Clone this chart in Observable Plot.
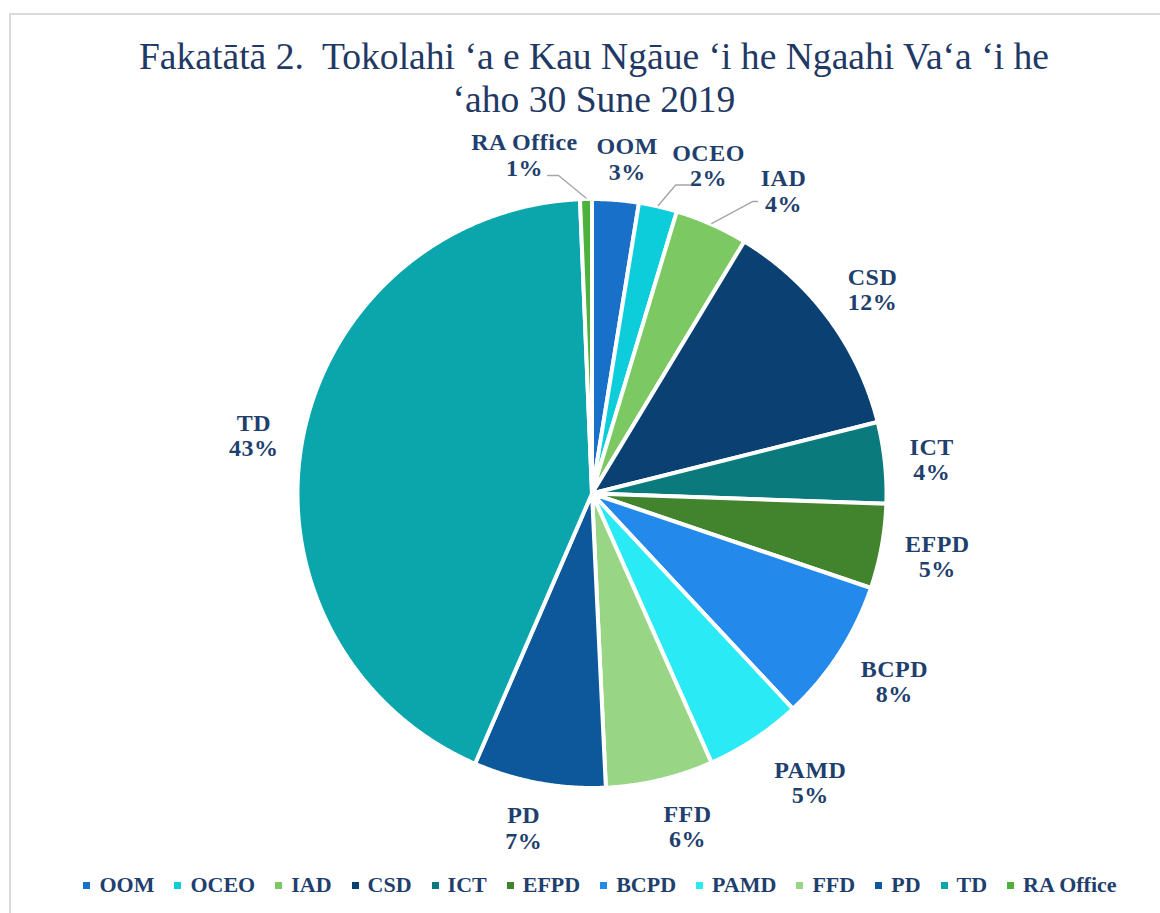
<!DOCTYPE html>
<html>
<head>
<meta charset="utf-8">
<script src="https://cdn.jsdelivr.net/npm/d3@7"></script>
<script src="https://cdn.jsdelivr.net/npm/@observablehq/plot@0.6"></script>
<style>
html,body{margin:0;padding:0;background:#fff;}
#wrap{position:relative;width:1160px;height:913px;overflow:hidden;font-family:"Liberation Serif","Times New Roman",serif;}
#frame{position:absolute;left:9px;top:13px;width:1300px;height:1100px;border-left:2px solid #d9d9d9;border-top:2px solid #d9d9d9;}
#title{position:absolute;left:28px;top:35px;width:1132px;text-align:center;font-size:37.6px;line-height:43px;color:#1f3864;white-space:pre;}
#chart{position:absolute;left:0;top:125px;}
#legend{position:absolute;left:40px;top:870px;width:1120px;height:30px;display:flex;justify-content:center;align-items:center;}
.item{display:flex;align-items:center;margin:0 10px;}
.sw{width:7px;height:7px;margin-right:9px;}
.lt{font-size:22px;font-weight:bold;color:#1f3f6e;line-height:30px;}
#chart svg text{letter-spacing:0.5px;}
</style>
</head>
<body>
<div id="wrap">
  <div id="frame"></div>
  <div id="title"></div>
  <div id="chart"></div>
  <div id="legend"></div>
</div>
<script>
// ---- data ----
const titleLines = ["Fakatātā 2.  Tokolahi ‘a e Kau Ngāue ‘i he Ngaahi Va‘a ‘i he", "‘aho 30 Sune 2019"];
const categories = ["OOM", "OCEO", "IAD", "CSD", "ICT", "EFPD", "BCPD", "PAMD", "FFD", "PD", "TD", "RA Office"];
const shares = [2.55, 2.1, 4.0, 12.45, 4.45, 4.65, 7.85, 5.3, 5.9, 7.25, 42.85, 0.65];
const colors = ["#1870C8", "#0ECDDA", "#7CC862", "#0B4072", "#0A7A7C", "#42842D", "#238AEB", "#2AEAF5", "#98D686", "#0C589B", "#0AA6AC", "#4CB23C"];

// ---- label layout (angle shift in degrees from slice middle, radius in pie radii) ----
const labelShift = [1.4, 6.6, 8.4, 0.4, 0.3, 0, -1, -3.6, -2.7, 1.2, -0.8, -10.1];
const labelRadius = [1.151, 1.19, 1.224, 1.186, 1.167, 1.2, 1.217, 1.238, 1.183, 1.167, 1.173, 1.181];
const leaderLayout = {
  "RA Office": {elbow: [-6.0, 1.093], tail: -11},
  "OCEO": {elbow: [15.17, 1.093], tail: 15},
  "IAD": {elbow: [28.8, 1.139], tail: 5}
};

// ---- page layout ----
const W = 1160, H = 740, CX = 591.5, CY = 368, R = 292.5;
const labelColor = "#1f3f6e";

document.getElementById("title").textContent = titleLines.join("\n");

const rows = categories.map((name, i) => ({name, value: shares[i]}));
const total = d3.sum(shares);
const arcs = d3.pie().sort(null).value(d => d.value)(rows);
const pct = d3.format(".0%");
const rad = Math.PI / 180;

// slice outlines
const rOut = 1 + 2 / R;
const slicePts = [];
for (const a of arcs) {
  const name = a.data.name;
  slicePts.push({name, x: 0, y: 0});
  const n = Math.max(2, Math.ceil((a.endAngle - a.startAngle) / (0.25 * rad)));
  for (let k = 0; k <= n; k++) {
    const t = a.startAngle + (a.endAngle - a.startAngle) * k / n;
    slicePts.push({name, x: rOut * Math.sin(t), y: rOut * Math.cos(t)});
  }
  slicePts.push({name, x: 0, y: 0});
}

// labels
const labels = arcs.map((a, i) => {
  const mid = (a.startAngle + a.endAngle) / 2 + labelShift[i] * rad;
  const r = labelRadius[i];
  return {name: a.data.name, x: r * Math.sin(mid), y: r * Math.cos(mid),
          text: a.data.name + "\n" + pct(a.data.value / total)};
});

// leader lines
const leaderPts = [];
for (const a of arcs) {
  const L = leaderLayout[a.data.name];
  if (!L) continue;
  const mid = (a.startAngle + a.endAngle) / 2;
  const r0 = 1 + 3 / R;
  leaderPts.push({name: a.data.name, x: r0 * Math.sin(mid), y: r0 * Math.cos(mid)});
  const ea = L.elbow[0] * rad, er = L.elbow[1];
  const ex = er * Math.sin(ea), ey = er * Math.cos(ea);
  leaderPts.push({name: a.data.name, x: ex, y: ey});
  leaderPts.push({name: a.data.name, x: ex + L.tail / R, y: ey});
}

const chart = Plot.plot({
  width: W,
  height: H,
  margin: 0,
  x: {domain: [-CX / R, (W - CX) / R], axis: null},
  y: {domain: [-(H - CY) / R, CY / R], axis: null},
  color: {domain: categories, range: colors},
  style: {background: "transparent", overflow: "visible"},
  marks: [
    Plot.line(slicePts, {x: "x", y: "y", z: "name", fill: "name", stroke: "white", strokeWidth: 4, strokeLinejoin: "round", curve: "linear"}),
    Plot.line(leaderPts, {x: "x", y: "y", z: "name", stroke: "#a6a6a6", strokeWidth: 1.4, strokeLinejoin: "miter"}),
    Plot.text(labels, {x: "x", y: "y", text: "text", fontSize: 24, fontWeight: "bold",
      fontFamily: "Liberation Serif, Times New Roman, serif", fill: labelColor, lineHeight: 1.06})
  ]
});
document.getElementById("chart").appendChild(chart);

// legend
const legend = document.getElementById("legend");
categories.forEach((c, i) => {
  const it = document.createElement("div");
  it.className = "item";
  const sw = document.createElement("div");
  sw.className = "sw";
  sw.style.background = colors[i];
  const t = document.createElement("span");
  t.className = "lt";
  t.textContent = c;
  it.appendChild(sw);
  it.appendChild(t);
  legend.appendChild(it);
});
</script>
</body>
</html>
